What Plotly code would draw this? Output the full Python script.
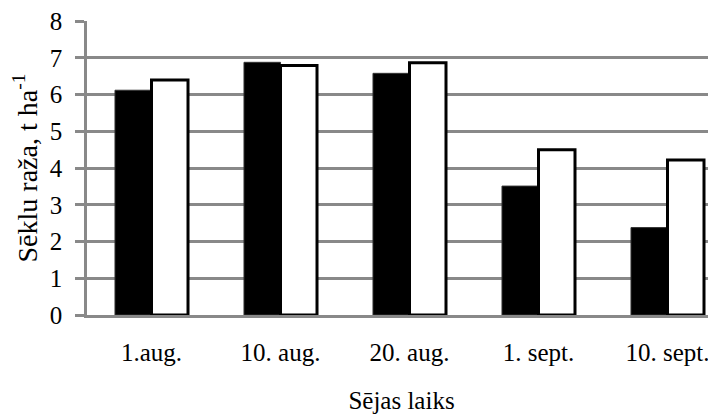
import plotly.graph_objects as go

categories = ["1.aug.", "10. aug.", "20. aug.", "1. sept.", "10. sept."]
series_a = [6.12, 6.88, 6.58, 3.51, 2.38]
series_b = [6.40, 6.79, 6.87, 4.50, 4.22]
y_ticks = [0, 1, 2, 3, 4, 5, 6, 7, 8]

font_family = "Liberation Serif, Times New Roman, serif"
grid_grey = "#898989"

fig = go.Figure()
fig.add_trace(go.Bar(x=categories, y=series_a,
                     marker=dict(color="black", line=dict(color="#333333", width=1)),
                     showlegend=False))
fig.add_trace(go.Bar(x=categories, y=series_b,
                     marker=dict(color="white", line=dict(color="black", width=3)),
                     showlegend=False))

# the page body adds an 8px offset, so margins are reduced by 8px at left/top
fig.update_layout(
    width=716, height=415,
    margin=dict(l=79, r=8, t=13, b=108, autoexpand=False),
    paper_bgcolor="white", plot_bgcolor="white",
    barmode="group", bargap=0.434, bargroupgap=0,
    font=dict(family=font_family, color="black", size=25),
)
fig.update_xaxes(
    range=[-0.5, 4.376], automargin=False,
    showline=True, linecolor=grid_grey, linewidth=2.5,
    ticks="", ticklabelstandoff=13,
    tickfont=dict(size=25, family=font_family, color="black"),
    title=dict(text="Sējas laiks", font=dict(size=25, family=font_family, color="black"), standoff=27),
    showgrid=False,
)
fig.update_yaxes(
    range=[0, 8.005], tickvals=y_ticks, automargin=False,
    showline=True, linecolor=grid_grey, linewidth=2.5,
    ticks="outside", ticklen=9, tickcolor=grid_grey, tickwidth=2.5,
    ticklabelstandoff=8, ticklabeloverflow="allow",
    showgrid=True, gridcolor=grid_grey, gridwidth=2.5,
    tickfont=dict(size=25, family=font_family, color="black"),
    title=dict(text="Sēklu raža, t ha<sup>-1</sup>", font=dict(size=28, family=font_family, color="black"), standoff=10),
    zeroline=False,
)

fig.write_html("out.html")
